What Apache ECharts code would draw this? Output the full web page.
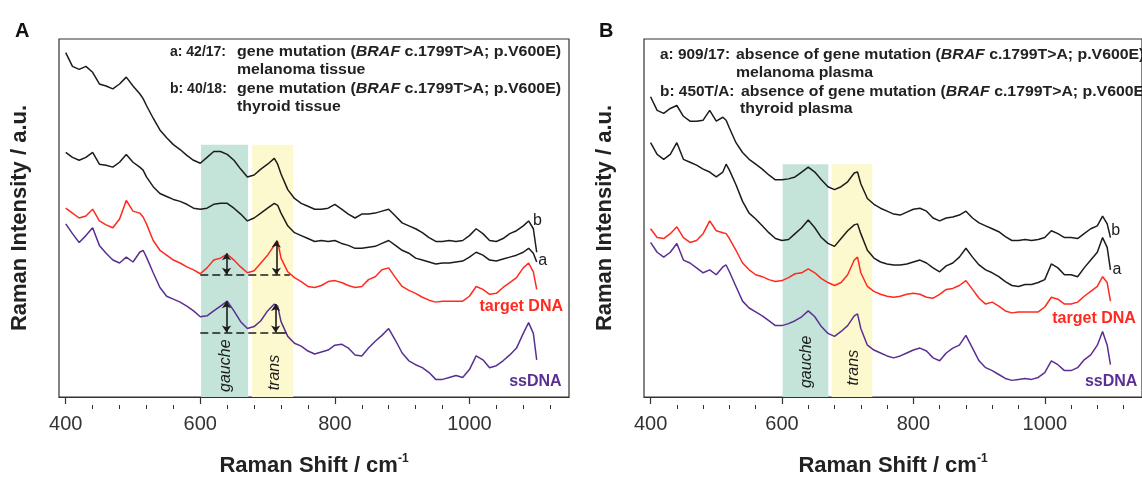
<!DOCTYPE html>
<html>
<head>
<meta charset="utf-8">
<script src="https://cdn.jsdelivr.net/npm/echarts@6/dist/echarts.min.js"></script>
<style>
  html, body { margin: 0; padding: 0; background: #fff; }
  #main { width: 1142px; height: 484px; }
</style>
</head>
<body>
<div id="main"></div>
<script>
// Raman shift (cm-1), shared by every curve
const ramanShift = [
  400, 410, 420, 430, 440, 450, 460, 470, 480, 490, 500, 510, 515, 520, 530, 540, 550, 560, 570, 580,
  590, 600, 610, 620, 630, 640, 650, 660, 670, 680, 690, 700, 710, 715, 720, 730, 740, 750, 760, 770,
  780, 790, 800, 810, 820, 830, 840, 850, 860, 870, 880, 890, 900, 910, 920, 930, 940, 950, 960, 970,
  980, 990, 1000, 1010, 1020, 1030, 1040, 1050, 1060, 1070, 1080, 1088, 1095, 1100
]

// panel A (tissue)
const tissueB = [
  352, 338, 335, 338, 332, 320, 318, 315, 320, 327, 318, 310, 305, 298, 285, 273, 265, 258, 253, 247,
  242, 239, 245, 251, 251, 248, 242, 233, 225, 227, 233, 238, 244, 238, 228, 212, 203, 198, 195, 192,
  192, 193, 197, 192, 187, 183, 187, 187, 188, 190, 192, 185, 178, 175, 172, 168, 163, 159, 159, 160,
  159, 160, 165, 172, 167, 160, 159, 162, 167, 170, 175, 180, 172, 148
]
const tissueA = [
  250, 245, 242, 245, 250, 238, 237, 235, 240, 248, 240, 235, 232, 225, 215, 208, 205, 202, 200, 197,
  193, 192, 193, 197, 198, 198, 193, 187, 180, 183, 188, 193, 198, 196, 188, 175, 168, 165, 162, 159,
  160, 159, 160, 157, 155, 152, 152, 153, 154, 157, 160, 155, 150, 147, 142, 140, 138, 136, 137, 137,
  138, 139, 143, 148, 145, 140, 139, 141, 143, 145, 148, 152, 147, 138
]
const tissueTarget = [
  193, 188, 183, 185, 192, 180, 176, 173, 182, 201, 190, 188, 184, 177, 160, 150, 145, 140, 137, 133,
  130, 126, 132, 140, 142, 146, 140, 133, 127, 129, 137, 145, 155, 159, 142, 128, 122, 118, 113, 112,
  114, 118, 119, 117, 114, 112, 113, 120, 123, 130, 132, 122, 113, 109, 106, 102, 99, 97, 98, 98,
  98, 98, 103, 113, 110, 105, 106, 112, 117, 122, 132, 137, 128, 110
]
const tissueSs = [
  177, 167, 158, 165, 173, 155, 147, 140, 137, 143, 138, 148, 150, 143, 127, 112, 103, 100, 97, 93,
  88, 82, 83, 88, 93, 98, 88, 77, 70, 72, 78, 88, 95, 93, 77, 62, 55, 52, 47, 44,
  46, 48, 53, 54, 50, 43, 42, 50, 57, 63, 70, 58, 45, 37, 33, 30, 25, 18, 18, 20,
  22, 20, 28, 42, 38, 30, 32, 37, 43, 50, 65, 76, 65, 38
]

// panel B (plasma)
const plasmaB = [
  307, 293, 290, 295, 298, 287, 282, 282, 283, 293, 282, 286, 283, 275, 260, 250, 243, 238, 233, 227,
  222, 222, 223, 225, 230, 235, 230, 222, 215, 212, 215, 220, 229, 230, 218, 203, 197, 193, 190, 187,
  186, 189, 192, 193, 190, 183, 180, 183, 184, 186, 190, 183, 178, 175, 172, 169, 164, 160, 160, 161,
  160, 161, 163, 170, 167, 163, 163, 162, 167, 172, 175, 185, 177, 163
]
const plasmaA = [
  260, 248, 243, 248, 260, 243, 240, 237, 233, 230, 225, 230, 238, 232, 217, 200, 188, 182, 175, 168,
  162, 160, 161, 167, 173, 181, 173, 163, 157, 154, 162, 170, 176, 177, 167, 150, 142, 138, 136, 135,
  135, 136, 138, 140, 137, 132, 128, 134, 137, 143, 152, 143, 135, 130, 127, 123, 118, 114, 113, 115,
  115, 117, 120, 136, 132, 125, 125, 123, 132, 140, 148, 163, 153, 130
]
const plasmaTarget = [
  172, 163, 162, 167, 174, 163, 158, 160, 167, 180, 170, 168, 167, 162, 150, 137, 130, 125, 123, 120,
  118, 119, 122, 126, 127, 131, 127, 121, 117, 114, 117, 125, 140, 143, 127, 113, 108, 105, 103, 102,
  103, 105, 106, 105, 102, 101, 105, 110, 111, 114, 119, 110, 101, 95, 97, 93, 88, 86, 87, 87,
  87, 87, 92, 102, 100, 95, 95, 97, 103, 108, 113, 123, 117, 98
]
const plasmaSs = [
  158, 148, 143, 148, 157, 140, 137, 132, 127, 130, 125, 133, 135, 128, 113, 98, 91, 87, 83, 78,
  73, 73, 75, 78, 82, 88, 82, 72, 65, 62, 67, 73, 83, 85, 70, 53, 48, 45, 42, 40,
  42, 45, 48, 50, 47, 40, 37, 45, 50, 53, 63, 50, 37, 30, 27, 23, 19, 17, 18, 19,
  18, 20, 25, 37, 33, 27, 27, 30, 38, 43, 53, 67, 53, 33
]

const labelTicks = [400, 600, 800, 1000]
const minorTicks = [440, 480, 520, 560, 640, 680, 720, 760, 840, 880, 920, 960, 1040, 1080, 1120]

// gauche / trans bands: [from, to, top]
const bandsA = [[601, 671, 258], [677, 738, 258]]
const bandsB = [[601, 670.5, 238], [675.5, 737.5, 238]]

// panel A peak-height marks: baselines [x0, x1, y] and arrows [x, y0, y1]
const baselinesA = [[600, 733, 125], [600, 712, 66]]
const arrowsA = [[639, 125, 147], [713, 125, 160], [639, 66, 98], [712, 66, 95]]

const black = '#1c1c1c'
const red = '#ff2a1f'
const purple = '#5a2f92'
const font = '"Liberation Sans", Arial, sans-serif'

const pair = ys => ramanShift.map((x, i) => [x, ys[i]])

const makeAxes = (g) => {
  const main = {
    type: 'value', gridIndex: g, min: 390, max: 1148, position: 'bottom',
    axisLine: { lineStyle: { color: '#333', width: 1.2 } },
    axisTick: { customValues: labelTicks, length: 7, lineStyle: { color: '#333', width: 1.2 } },
    axisLabel: {
      customValues: labelTicks, fontSize: 20, color: '#333', margin: 17, fontFamily: font,
      formatter: v => String(v),
    },
    splitLine: { show: false },
    name: 'Raman Shift / cm{s|-1}',
    nameLocation: 'middle',
    nameGap: 56,
    nameTextStyle: {
      fontSize: 22, fontWeight: 'bold', color: '#222', fontFamily: font, lineHeight: 26,
      rich: { s: { fontSize: 12, fontWeight: 'bold', color: '#222', verticalAlign: 'top', lineHeight: 26, fontFamily: font } },
    },
  }
  // second axis only carries the short ticks; a grid puts it on top, so shift it down onto the bottom edge
  const minor = {
    type: 'value', gridIndex: g, min: 390, max: 1148, position: 'top', offset: -366,
    axisLine: { show: false },
    axisTick: { customValues: minorTicks, inside: true, length: 4, lineStyle: { color: '#333', width: 1 } },
    axisLabel: { show: false },
    splitLine: { show: false },
  }
  return [main, minor]
}

const makeYAxis = (g) => ({
  type: 'value', gridIndex: g, min: 0, max: 366,
  axisLine: { show: false }, axisTick: { show: false }, axisLabel: { show: false },
  splitLine: { show: false },
  name: 'Raman Intensity / a.u.',
  nameLocation: 'middle',
  nameGap: 28,
  nameTextStyle: { fontSize: 22, fontWeight: 'bold', color: '#222', fontFamily: font },
})

const curve = (g, ys, color) => ({
  type: 'line', xAxisIndex: g * 2, yAxisIndex: g, data: pair(ys),
  symbol: 'none', z: 3, silent: true,
  lineStyle: { color, width: 1.5 },
})

const bandSeries = (g, bands) => ({
  type: 'line', xAxisIndex: g * 2, yAxisIndex: g, data: [], z: 1, silent: true,
  markArea: {
    silent: true,
    data: bands.map((b, i) => [
      { xAxis: b[0], yAxis: 0, itemStyle: { color: i === 0 ? '#c4e4da' : '#fdf9cf' } },
      { xAxis: b[1], yAxis: b[2] },
    ]),
  },
})

const textMark = (name, x, y, color, size, extra) => ({
  name, coord: [x, y],
  label: Object.assign({ show: true, formatter: '{b}', position: 'inside', color, fontSize: size, fontWeight: 'bold', fontFamily: font }, extra || {}),
})

const labelSeries = (g, items) => ({
  type: 'line', xAxisIndex: g * 2, yAxisIndex: g, data: [], z: 5, silent: true,
  markPoint: { symbol: 'circle', symbolSize: 0, silent: true, animation: false, data: items },
})

const rotated = { rotate: 90, fontStyle: 'italic', fontWeight: 'normal', fontSize: 16 }
const plain = { fontWeight: 'normal' }

const annotationA = {
  type: 'line', xAxisIndex: 0, yAxisIndex: 0, data: [], z: 4, silent: true,
  markLine: {
    silent: true, animation: false, symbolSize: 7,
    label: { show: false },
    data: baselinesA.map(b => [
      { coord: [b[0], b[2]], symbol: 'none', lineStyle: { type: [8, 4], color: black, width: 1.6 } },
      { coord: [b[1], b[2]], symbol: 'none' },
    ]).concat([[
      { coord: [712, 66], symbol: 'none', lineStyle: { type: 'solid', color: black, width: 1.6 } },
      { coord: [727, 66], symbol: 'none' },
    ]]).concat(arrowsA.map(a => [
      { coord: [a[0], a[1]], symbol: 'arrow', lineStyle: { type: 'solid', color: black, width: 1.6 } },
      { coord: [a[0], a[2]], symbol: 'arrow' },
    ])),
  },
}

// header text; the figure's lettering is slightly wider than the font, so stretch it
const header = (text, x, y, sx) => ({
  type: 'text', x, y, scaleX: sx, silent: true,
  style: {
    text, fill: '#222', font: 'bold 14px ' + font, align: 'left', verticalAlign: 'top',
    rich: { i: { fontStyle: 'italic', fontWeight: 'bold', fontSize: 14, fill: '#222', fontFamily: font } },
  },
})

const chart = echarts.init(document.getElementById('main'))
chart.setOption({
  animation: false,
  backgroundColor: '#fff',
  grid: [
    { left: 59, top: 39, width: 510, height: 366, show: true, borderColor: '#333', borderWidth: 1.2 },
    { left: 644, top: 39, width: 510, height: 366, show: true, borderColor: '#333', borderWidth: 1.2 },
  ],
  xAxis: makeAxes(0).concat(makeAxes(1)),
  yAxis: [makeYAxis(0), makeYAxis(1)],
  graphic: [
    { type: 'text', left: 15, top: 21, style: { text: 'A', font: 'bold 20px ' + font, fill: '#111' } },
    { type: 'text', left: 599, top: 21, style: { text: 'B', font: 'bold 20px ' + font, fill: '#111' } },
    header('a: 42/17:', 170, 45, 1),
    header('gene mutation ({i|BRAF} c.1799T>A; p.V600E)', 237, 45, 1.14),
    header('melanoma tissue', 237, 63, 1.13),
    header('b: 40/18:', 170, 82, 1),
    header('gene mutation ({i|BRAF} c.1799T>A; p.V600E)', 237, 82, 1.14),
    header('thyroid tissue', 237, 100, 1.13),
    header('a: 909/17:', 660, 48, 1.1),
    header('absence of gene mutation ({i|BRAF} c.1799T>A; p.V600E)', 736, 48, 1.13),
    header('melanoma plasma', 736, 66, 1.13),
    header('b: 450T/A:', 660, 85, 1.1),
    header('absence of gene mutation ({i|BRAF} c.1799T>A; p.V600E)', 741, 85, 1.13),
    header('thyroid plasma', 740, 102, 1.13),
  ],
  series: [
    bandSeries(0, bandsA),
    curve(0, tissueB, black),
    curve(0, tissueA, black),
    curve(0, tissueTarget, red),
    curve(0, tissueSs, purple),
    annotationA,
    labelSeries(0, [
      textMark('b', 1101, 180, black, 16, plain),
      textMark('a', 1109, 139, black, 16, plain),
      textMark('target DNA', 1077, 92, red, 16),
      textMark('ssDNA', 1098, 16, purple, 16),
      textMark('gauche', 638, 32, black, 15, rotated),
      textMark('trans', 710, 25, black, 15, rotated),
    ]),

    bandSeries(1, bandsB),
    curve(1, plasmaB, black),
    curve(1, plasmaA, black),
    curve(1, plasmaTarget, red),
    curve(1, plasmaSs, purple),
    labelSeries(1, [
      textMark('b', 1108, 170, black, 16, plain),
      textMark('a', 1110, 130, black, 16, plain),
      textMark('target DNA', 1075, 80, red, 16),
      textMark('ssDNA', 1101, 16, purple, 16),
      textMark('gauche', 638, 36, black, 15, rotated),
      textMark('trans', 709, 30, black, 15, rotated),
    ]),
  ],
})
</script>
</body>
</html>
